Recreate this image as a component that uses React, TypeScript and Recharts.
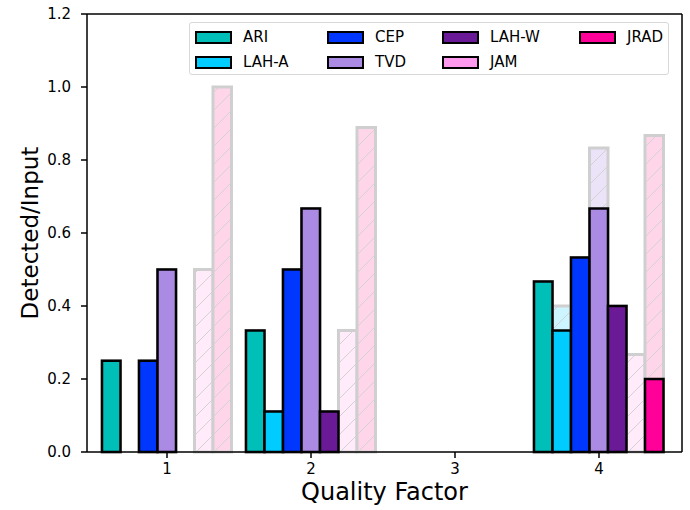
import React from "react";
import { BarChart, Bar, XAxis, YAxis, CartesianGrid } from "recharts";

// ── Data ──────────────────────────────────────────────────────────────────────
const categories = ["1", "2", "3", "4"];
const yTicks = [0, 0.2, 0.4, 0.6, 0.8, 1.0, 1.2];

// detected / input (solid bars)
const ari = [0.25, 0.333, 0, 0.467];
const lahA = [0, 0.111, 0, 0.333];
const cep = [0.25, 0.5, 0, 0.533];
const tvd = [0.5, 0.667, 0, 0.667];
const lahW = [0, 0.111, 0, 0.4];
const jam = [0, 0, 0, 0];
const jrad = [0, 0, 0, 0.2];

// faded hatched bars behind
const ariAll = [0.25, 0.333, 0, 0.467];
const lahAAll = [0, 0.111, 0, 0.4];
const cepAll = [0.25, 0.5, 0, 0.533];
const tvdAll = [0.5, 0.667, 0, 0.833];
const lahWAll = [0, 0.111, 0, 0.4];
const jamAll = [0.5, 0.333, 0, 0.267];
const jradAll = [1.0, 0.889, 0, 0.867];

const series = [
  { key: "ari", name: "ARI", color: "#00bfb9", ghost: "#ccf2f1" },
  { key: "lahA", name: "LAH-A", color: "#00ccff", ghost: "#ccf5ff" },
  { key: "cep", name: "CEP", color: "#0037ff", ghost: "#ccd7ff" },
  { key: "tvd", name: "TVD", color: "#ab8ae3", ghost: "#ebe3f8" },
  { key: "lahW", name: "LAH-W", color: "#6a1a96", ghost: "#e1d1ea" },
  { key: "jam", name: "JAM", color: "#ff99ee", ghost: "#ffebfa" },
  { key: "jrad", name: "JRAD", color: "#ff0099", ghost: "#ffd6e9" },
];

const data = categories.map((c, i) => ({
  name: c,
  ari: ari[i],
  lahA: lahA[i],
  cep: cep[i],
  tvd: tvd[i],
  lahW: lahW[i],
  jam: jam[i],
  jrad: jrad[i],
  ariAll: ariAll[i],
  lahAAll: lahAAll[i],
  cepAll: cepAll[i],
  tvdAll: tvdAll[i],
  lahWAll: lahWAll[i],
  jamAll: jamAll[i],
  jradAll: jradAll[i],
}));

const FONT = "'DejaVu Sans', sans-serif";
const BAR = 18.5;
const XPAD = { left: 8, right: 11 };

// ── Legend ────────────────────────────────────────────────────────────────────
function ChartLegend() {
  const cols = [
    [series[0], series[1]],
    [series[2], series[3]],
    [series[4], series[5]],
    [series[6]],
  ];
  const colLeft = [194, 326, 441, 578];
  return (
    <div
      style={{
        position: "absolute",
        left: 189,
        top: 22,
        width: 480,
        height: 53,
        border: "1px solid #d8d8d8",
        borderRadius: 3,
        background: "rgba(255,255,255,0.8)",
        boxSizing: "border-box",
        fontFamily: FONT,
        fontSize: 15,
      }}
    >
      {cols.map((col, ci) =>
        col.map((s, ri) => (
          <div
            key={s.key}
            style={{
              position: "absolute",
              left: colLeft[ci] - 189,
              top: 5 + ri * 25,
              display: "flex",
              alignItems: "center",
              height: 18,
            }}
          >
            <span
              style={{
                display: "inline-block",
                width: 33,
                height: 9,
                background: s.color,
                border: "2.5px solid #000",
                marginRight: 11,
              }}
            />
            <span>{s.name}</span>
          </div>
        ))
      )}
    </div>
  );
}

// ── Main ──────────────────────────────────────────────────────────────────────
export default function App() {
  return (
    <div style={{ position: "absolute", left: 0, top: 0, width: 690, height: 510, background: "#fff" }}>
      <BarChart
        width={690}
        height={510}
        data={data}
        margin={{ top: 14, right: 8, left: 0, bottom: 0 }}
        barGap={0}
      >
        <defs>
          {series.map((s) => (
            <pattern
              key={s.key}
              id={`hatch-${s.key}`}
              patternUnits="userSpaceOnUse"
              width={18}
              height={18}
            >
              <rect width={18} height={18} fill={s.ghost} />
              <path d="M-2,20 L20,-2 M-2,2 L2,-2 M16,20 L20,16" stroke="#d2d2d2" strokeWidth={1} />
            </pattern>
          ))}
        </defs>

        {/* top and right spines */}
        <CartesianGrid
          stroke="#000"
          strokeWidth={1.5}
          horizontalCoordinatesGenerator={({ offset }: any) => [offset.top]}
          verticalCoordinatesGenerator={({ offset }: any) => [offset.left + offset.width]}
        />

        <XAxis
          dataKey="name"
          height={58}
          padding={XPAD}
          tick={{ fontSize: 15, fill: "#000", fontFamily: FONT }}
          tickSize={6}
          tickMargin={5}
          tickLine={{ stroke: "#000", strokeWidth: 1.5 }}
          axisLine={{ stroke: "#000", strokeWidth: 1.5 }}
          label={{
            value: "Quality Factor",
            position: "insideBottom",
            offset: 10,
            style: { fontSize: 24, fill: "#000", fontFamily: FONT },
          }}
        />
        <XAxis xAxisId="ghost" dataKey="name" hide padding={XPAD} />
        <YAxis
          domain={[0, 1.2]}
          ticks={yTicks}
          width={87}
          tickFormatter={(v: number) => v.toFixed(1)}
          tick={{ fontSize: 15, fill: "#000", fontFamily: FONT }}
          tickSize={6}
          tickMargin={10}
          tickLine={{ stroke: "#000", strokeWidth: 1.5 }}
          axisLine={{ stroke: "#000", strokeWidth: 1.5 }}
          label={{
            value: "Detected/Input",
            angle: -90,
            position: "center",
            dx: -14,
            style: { fontSize: 23, fill: "#000", fontFamily: FONT, textAnchor: "middle" },
          }}
        />

        {series.map((s) => (
          <Bar
            key={`${s.key}All`}
            xAxisId="ghost"
            dataKey={`${s.key}All`}
            barSize={BAR}
            fill={`url(#hatch-${s.key})`}
            stroke="#cfcfcf"
            strokeWidth={3}
            isAnimationActive={false}
          />
        ))}
        {series.map((s) => (
          <Bar
            key={s.key}
            dataKey={s.key}
            name={s.name}
            barSize={BAR}
            fill={s.color}
            stroke="#000"
            strokeWidth={2.5}
            isAnimationActive={false}
          />
        ))}
      </BarChart>
      <ChartLegend />
    </div>
  );
}
